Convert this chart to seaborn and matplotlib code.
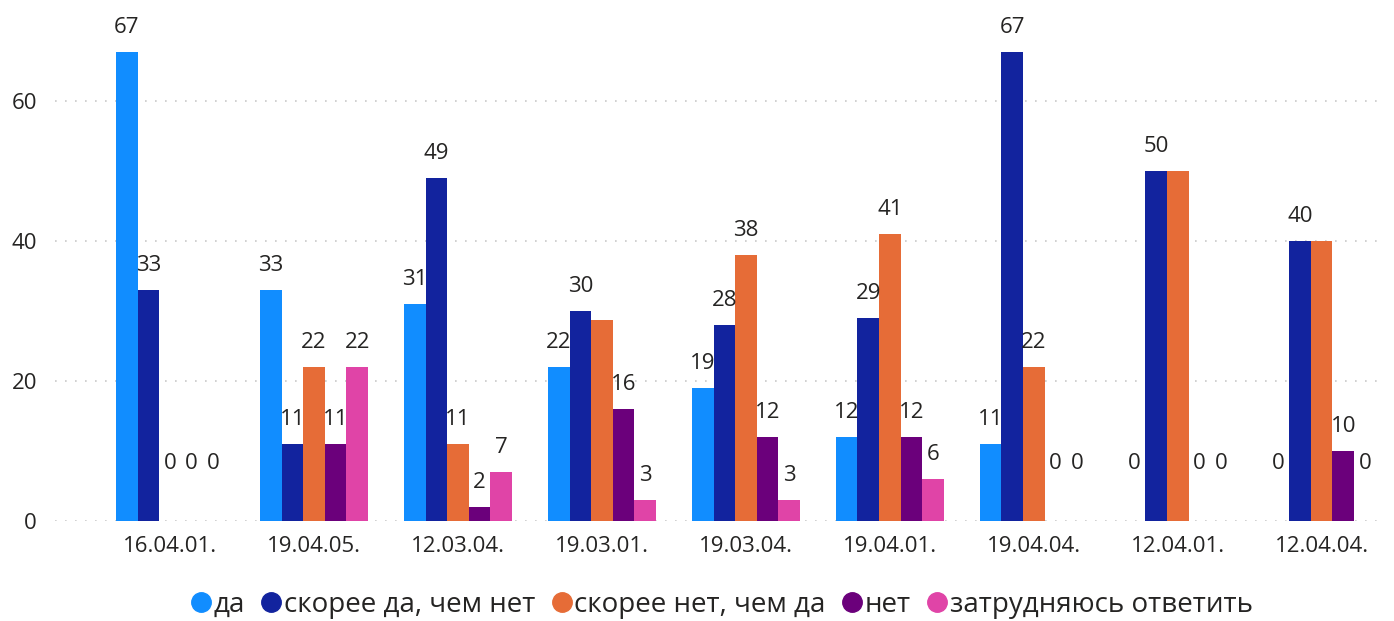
import matplotlib
matplotlib.use("Agg")
import matplotlib.pyplot as plt
from matplotlib.lines import Line2D
import seaborn as sns
import pandas as pd

# data
groups = ["16.04.01.", "19.04.05.", "12.03.04.", "19.03.01.", "19.03.04.",
          "19.04.01.", "19.04.04.", "12.04.01.", "12.04.04."]
answers = ["да", "скорее да, чем нет", "скорее нет, чем да", "нет", "затрудняюсь ответить"]

da = [67, 33, 31, 22, 19, 12, 11, 0, 0]
skoree_da = [33, 11, 49, 30, 28, 29, 67, 50, 40]
skoree_net = [0, 22, 11, 28.7, 38, 41, 22, 50, 40]
net = [0, 11, 2, 16, 12, 12, 0, 0, 10]
zatrud = [0, 22, 7, 3, 3, 6, 0, 0, 0]

# labels that the original chart does not show (overlap)
hidden_labels = {("19.03.01.", "скорее нет, чем да"),
                 ("12.04.01.", "скорее нет, чем да"),
                 ("12.04.04.", "скорее нет, чем да")}

colors = ["#118DFF", "#12239E", "#E66C37", "#6B007B", "#E044A7"]

rows = []
for ans, vals in zip(answers, [da, skoree_da, skoree_net, net, zatrud]):
    for g, v in zip(groups, vals):
        rows.append({"group": g, "answer": ans, "value": v})
df = pd.DataFrame(rows)

sns.set_style("white")
plt.rcParams["font.family"] = ["Open Sans", "DejaVu Sans"]
text_col = "#252423"

fig = plt.figure(figsize=(13.94, 6.21), dpi=100)
ax = fig.add_axes([55 / 1394, 1 - 521 / 621, 1330 / 1394, 511 / 621])

sns.barplot(data=df, x="group", y="value", hue="answer", order=groups,
            hue_order=answers, palette=colors, width=0.75, saturation=1,
            linewidth=0, legend=False, ax=ax)

ax.set_xlim(-0.8, 8.44)
ax.set_ylim(0, 73)
ax.set_yticks([0, 20, 40, 60])
ax.grid(axis="y", linestyle=(0, (1, 5)), color="#C8C8C8", linewidth=1.2)
ax.set_axisbelow(True)
for s in ax.spines.values():
    s.set_visible(False)
ax.set_xlabel("")
ax.set_ylabel("")
ax.tick_params(axis="both", length=0, labelsize=16, labelcolor=text_col)
ax.tick_params(axis="x", pad=11)
ax.tick_params(axis="y", pad=13)

# value labels
for ans, cont in zip(answers, ax.containers):
    for g, bar in zip(groups, cont):
        if (g, ans) in hidden_labels:
            continue
        h = bar.get_height()
        off = 47 if h == 0 else 14
        ax.annotate(f"{h:.0f}", (bar.get_x() + bar.get_width() / 2, h),
                    xytext=(0, off), textcoords="offset pixels",
                    ha="center", va="bottom", fontsize=16, color=text_col)

handles = [Line2D([], [], marker="o", linestyle="", markersize=14,
                  markerfacecolor=c, markeredgecolor=c) for c in colors]
fig.legend(handles, answers, loc="center", bbox_to_anchor=(722 / 1394, 1 - 605 / 621),
           ncol=5, frameon=False, fontsize=20, handlelength=0.7,
           handletextpad=0.1, columnspacing=0.6, labelcolor=text_col)

fig.savefig("out.png", dpi=100)
